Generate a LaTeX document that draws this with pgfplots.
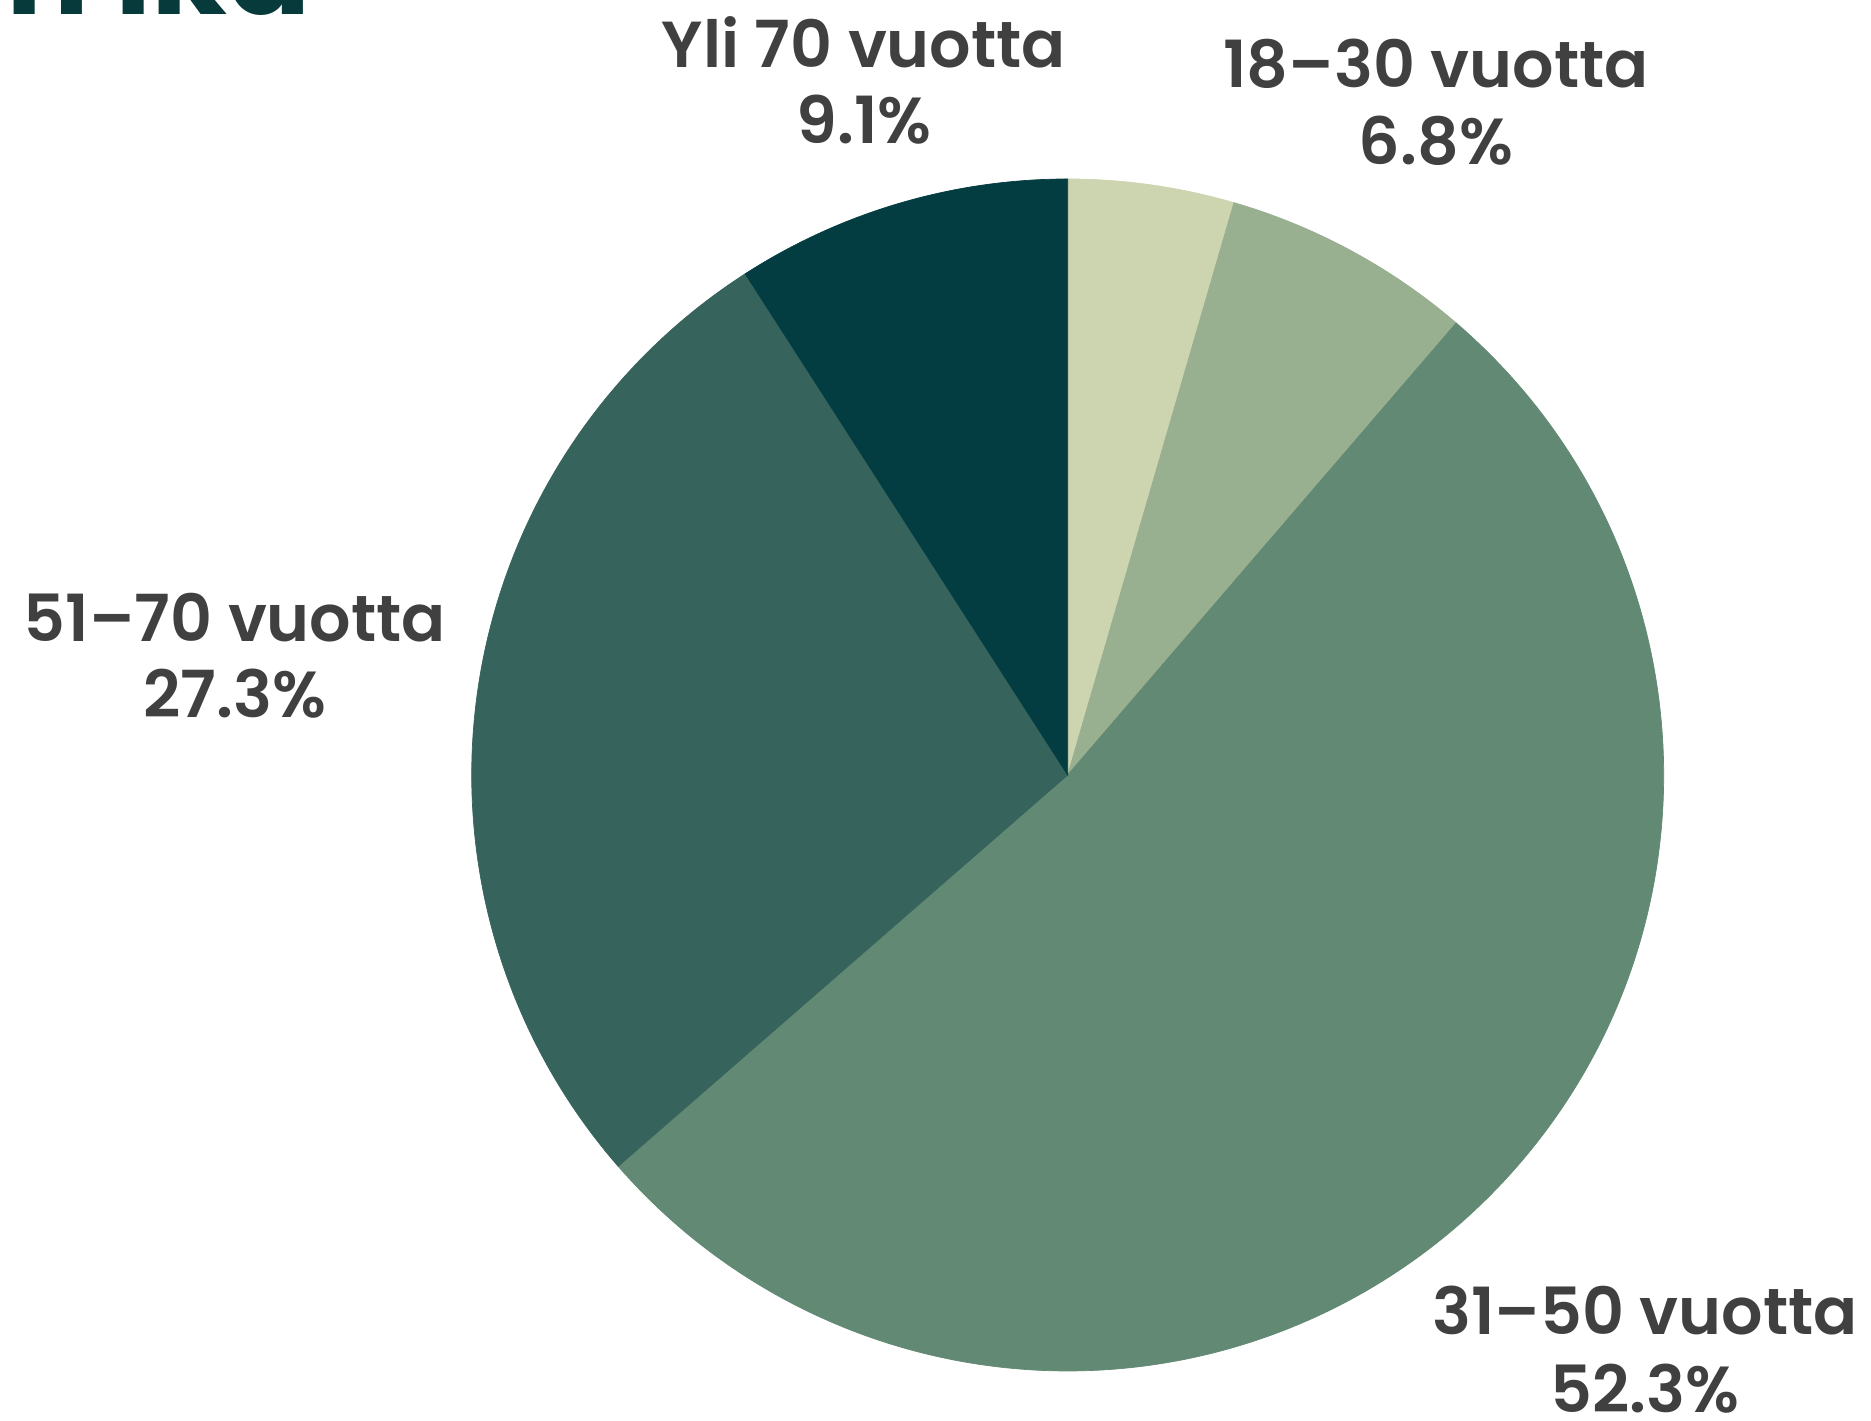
\documentclass[border=0pt]{standalone}
\usepackage{pgfplots}
\pgfplotsset{compat=1.18}
\usepackage{fontspec}
\setmainfont{Poppins}[BoldFont={Poppins SemiBold}]
\newfontfamily\titlefont{Poppins}

\definecolor{cA}{HTML}{CDD5B0}
\definecolor{cB}{HTML}{98AF90}
\definecolor{cC}{HTML}{628973}
\definecolor{cD}{HTML}{36635B}
\definecolor{cE}{HTML}{033D42}
\definecolor{cLab}{HTML}{404040}
\definecolor{cTitle}{HTML}{073A3A}

% share (%) / colour, clockwise from 12 o'clock
\def\slices{4.5/cA,6.8/cB,52.3/cC,27.3/cD,9.1/cE}
\newcommand\labfont{\bfseries\fontsize{18.5}{22}\selectfont}

\begin{document}
\begin{tikzpicture}
\begin{axis}[hide axis, scale only axis,
  width=18.71cm, height=14.21cm,
  xmin=0, xmax=1871, ymin=0, ymax=1421, clip=false]
\coordinate (bl) at (rel axis cs:0,0);
\coordinate (tr) at (rel axis cs:1,1);
\gdef\angA{90}
\foreach \v/\c in \slices {
  \pgfmathsetmacro\angB{\angA-3.6*\v}
  \edef\temp{\noexpand\fill[\c, draw=\c, line width=0.2pt] (axis cs:1067.7,646) -- ++(\angA:5.96cm)
    arc[start angle=\angA, end angle=\angB, radius=5.96cm] -- cycle;}
  \temp
  \global\let\angA\angB
}
\node[anchor=base east, text=cTitle, inner sep=0pt, font=\titlefont\bfseries\fontsize{35}{35}\selectfont] at (axis cs:312,1406) {Vastaajien ikä};
\node[anchor=base, text=cLab, font=\labfont] at (axis cs:864,1353) {Yli 70 vuotta};
\node[anchor=base, text=cLab, font=\labfont] at (axis cs:864,1277) {9.1\%};
\node[anchor=base, text=cLab, font=\labfont] at (axis cs:1436,1333) {18--30 vuotta};
\node[anchor=base, text=cLab, font=\labfont] at (axis cs:1436,1256) {6.8\%};
\node[anchor=base, text=cLab, font=\labfont] at (axis cs:235,779) {51--70 vuotta};
\node[anchor=base, text=cLab, font=\labfont] at (axis cs:235,703) {27.3\%};
\node[anchor=base, text=cLab, font=\labfont] at (axis cs:1645,86) {31--50 vuotta};
\node[anchor=base, text=cLab, font=\labfont] at (axis cs:1645,8) {52.3\%};
\end{axis}
\pgfresetboundingbox
\path (bl) rectangle (tr);
\end{tikzpicture}
\end{document}
